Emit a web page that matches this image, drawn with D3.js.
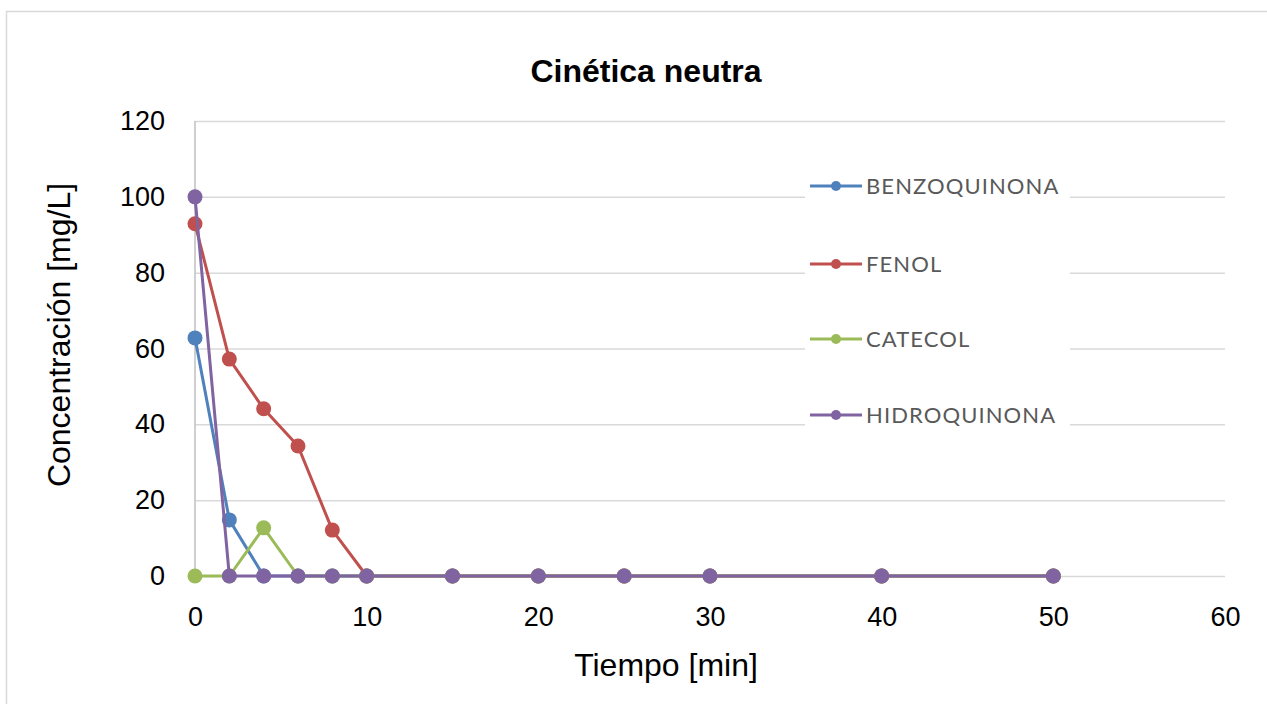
<!DOCTYPE html>
<html>
<head>
<meta charset="utf-8">
<script src="https://cdn.jsdelivr.net/npm/d3@7"></script>
<style>
  html, body { margin: 0; padding: 0; background: #fff; }
  svg { display: block; }
</style>
</head>
<body>
<svg id="chart" width="1267" height="704"></svg>
<script>
// Sampling times [min]
const tiempos = [0, 2, 4, 6, 8, 10, 15, 20, 25, 30, 40, 50];

// Concentrations [mg/L] per compound
const benzoquinona = [62.8, 14.8, 0, 0, 0, 0, 0, 0, 0, 0, 0, 0];
const fenol        = [92.9, 57.2, 44.1, 34.3, 12.1, 0, 0, 0, 0, 0, 0, 0];
const catecol      = [0, 0, 12.7, 0, 0, 0, 0, 0, 0, 0, 0, 0];
const hidroquinona = [100, 0, 0, 0, 0, 0, 0, 0, 0, 0, 0, 0];

const seriesNames  = ["BENZOQUINONA", "FENOL", "CATECOL", "HIDROQUINONA"];
const seriesValues = [benzoquinona, fenol, catecol, hidroquinona];
const seriesColors = ["#4f81bd", "#c0504d", "#9bbb59", "#8064a2"];

const xTicks = [0, 10, 20, 30, 40, 50, 60];
const yTicks = [0, 20, 40, 60, 80, 100, 120];

const FONT = "'Liberation Sans', Arial, sans-serif";
const svg = d3.select("#chart");

// Outer chart frame
svg.append("rect")
  .attr("x", 6.5).attr("y", 11.5)
  .attr("width", 1275).attr("height", 710)
  .attr("fill", "#fff")
  .attr("stroke", "#d9d9d9").attr("stroke-width", 1.5);

const plot = { left: 195, right: 1225, top: 121, bottom: 576 };

const x = d3.scaleLinear().domain([0, 60]).range([plot.left, plot.right]);
const y = d3.scaleLinear().domain([0, 120]).range([plot.bottom, plot.top]);

// Horizontal gridlines with value labels
const yAxis = d3.axisLeft(y).tickValues(yTicks).tickSize(-(plot.right - plot.left)).tickPadding(30);
const gy = svg.append("g").attr("transform", `translate(${plot.left},0)`).call(yAxis);
gy.select(".domain").remove();
gy.selectAll(".tick line").attr("stroke", "#d9d9d9").attr("stroke-width", 1.5);
gy.selectAll(".tick text")
  .attr("font-family", FONT)
  .attr("font-size", 27).attr("fill", "#000");

// Vertical axis line
svg.append("line")
  .attr("x1", plot.left).attr("x2", plot.left)
  .attr("y1", plot.top).attr("y2", plot.bottom)
  .attr("stroke", "#bfbfbf").attr("stroke-width", 1.5);

// X axis labels
const xAxis = d3.axisBottom(x).tickValues(xTicks).tickSize(0).tickPadding(31);
const gx = svg.append("g").attr("transform", `translate(0,${plot.bottom})`).call(xAxis);
gx.select(".domain").remove();
gx.selectAll(".tick text")
  .attr("font-family", FONT)
  .attr("font-size", 27).attr("fill", "#000");

// Legend background (covers gridlines)
const legend = { x: 805, y: 160, w: 265, h: 280 };
svg.append("rect")
  .attr("x", legend.x).attr("y", legend.y)
  .attr("width", legend.w).attr("height", legend.h)
  .attr("fill", "#fff");

// Series lines and markers
const line = d3.line().x((d, i) => x(tiempos[i])).y(d => y(d));
seriesValues.forEach((vals, k) => {
  const g = svg.append("g");
  g.append("path")
    .attr("d", line(vals))
    .attr("fill", "none")
    .attr("stroke", seriesColors[k])
    .attr("stroke-width", 3)
    .attr("stroke-linejoin", "round");
  g.selectAll("circle").data(vals).join("circle")
    .attr("cx", (d, i) => x(tiempos[i]))
    .attr("cy", d => y(d))
    .attr("r", 7.5)
    .attr("fill", seriesColors[k]);
});

// Legend entries
const legendRows = [186, 264, 339, 415];
seriesNames.forEach((name, k) => {
  const ly = legendRows[k];
  svg.append("line")
    .attr("x1", 810).attr("x2", 862).attr("y1", ly).attr("y2", ly)
    .attr("stroke", seriesColors[k]).attr("stroke-width", 3);
  svg.append("circle")
    .attr("cx", 836).attr("cy", ly).attr("r", 5)
    .attr("fill", seriesColors[k]);
  svg.append("text")
    .attr("x", 866).attr("y", ly + 8)
    .attr("font-family", "Lato, 'Open Sans', sans-serif")
    .attr("font-size", 22)
    .attr("letter-spacing", 1.1)
    .attr("fill", "#595959")
    .text(name);
});

// Title
svg.append("text")
  .attr("x", 646).attr("y", 82)
  .attr("text-anchor", "middle")
  .attr("font-family", FONT)
  .attr("font-weight", "bold")
  .attr("font-size", 32)
  .text("Cinética neutra");

// Axis titles
svg.append("text")
  .attr("x", 666).attr("y", 676)
  .attr("text-anchor", "middle")
  .attr("font-family", FONT)
  .attr("font-size", 32)
  .text("Tiempo [min]");

svg.append("text")
  .attr("transform", "translate(70,335) rotate(-90)")
  .attr("text-anchor", "middle")
  .attr("font-family", FONT)
  .attr("font-size", 32)
  .text("Concentración [mg/L]");
</script>
</body>
</html>
